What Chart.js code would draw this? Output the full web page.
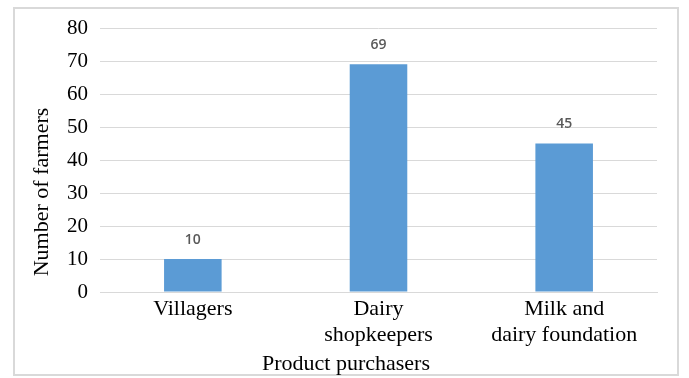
<!DOCTYPE html>
<html>
<head>
<meta charset="utf-8">
<script src="https://cdn.jsdelivr.net/npm/chart.js@4.4.0/dist/chart.umd.min.js"></script>
<style>
  html, body { margin: 0; padding: 0; background: #fff; }
  #wrap { width: 689px; height: 378px; }
</style>
</head>
<body>
<div id="wrap"><canvas id="myChart" width="689" height="378"></canvas></div>
<script>
const purchasers = ['Villagers', ['Dairy', 'shopkeepers'], ['Milk and', 'dairy foundation']];
const farmers = [10, 69, 45];
const yMin = 0;
const yMax = 80;
const yStep = 10;

const serif = "'Liberation Serif', 'Times New Roman', serif";
const GRID = '#d9d9d9';

// frame, axis titles and value labels
const decor = {
  id: 'decor',
  beforeDraw(chart) {
    const ctx = chart.ctx;
    ctx.save();
    ctx.strokeStyle = GRID;
    ctx.lineWidth = 2;
    ctx.strokeRect(14, 8, 664, 367);
    ctx.restore();
  },
  afterDatasetsDraw(chart) {
    const ctx = chart.ctx;
    const meta = chart.getDatasetMeta(0);
    ctx.save();
    ctx.font = "600 14px 'Open Sans', 'Liberation Sans', sans-serif";
    ctx.fillStyle = '#595959';
    ctx.textAlign = 'center';
    ctx.textBaseline = 'middle';
    meta.data.forEach((bar, i) => {
      ctx.fillText(String(farmers[i]), bar.x, bar.y - 19);
    });

    ctx.font = '22px ' + serif;
    ctx.fillStyle = '#000';
    ctx.fillText('Product purchasers', 346, 364);

    ctx.translate(42, 192);
    ctx.rotate(-Math.PI / 2);
    ctx.fillText('Number of farmers', 0, 0);
    ctx.restore();
  }
};

const ctx = document.getElementById('myChart').getContext('2d');
const chart = new Chart(ctx, {
  type: 'bar',
  data: {
    labels: purchasers,
    datasets: [{
      label: 'Number of farmers',
      data: farmers,
      backgroundColor: '#5b9bd5',
      borderWidth: 0,
      categoryPercentage: 1,
      barPercentage: 0.31
    }]
  },
  options: {
    responsive: false,
    animation: false,
    layout: { padding: { top: 28, right: 32, left: 0, bottom: 0 } },
    plugins: {
      legend: { display: false },
      tooltip: { enabled: false }
    },
    scales: {
      x: {
        grid: { display: false, drawTicks: false },
        border: { color: GRID, width: 1 },
        ticks: {
          color: '#000',
          padding: 4,
          maxRotation: 0,
          autoSkip: false,
          font: { family: serif, size: 22, lineHeight: 1.2 }
        },
        afterFit(scale) { scale.height = 86; }
      },
      y: {
        min: yMin,
        max: yMax,
        grid: { color: GRID, drawTicks: false },
        border: { display: false },
        ticks: {
          stepSize: yStep,
          color: '#000',
          padding: 12,
          font: { family: serif, size: 21 }
        },
        afterFit(scale) { scale.width = 100; }
      }
    }
  },
  plugins: [decor]
});
</script>
</body>
</html>
